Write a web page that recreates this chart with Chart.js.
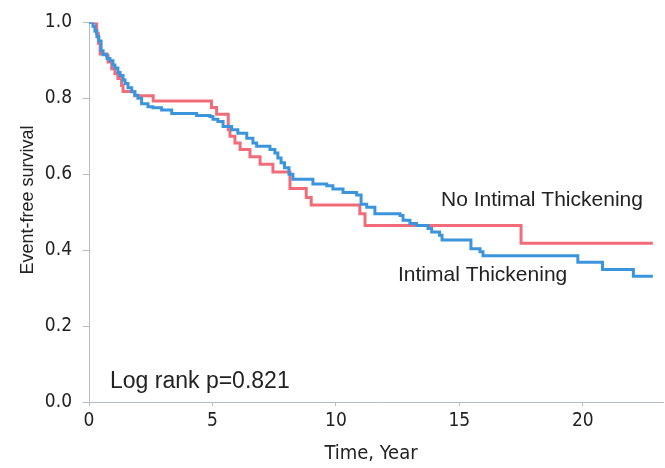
<!DOCTYPE html>
<html>
<head>
<meta charset="utf-8">
<script src="https://cdn.jsdelivr.net/npm/chart.js@4/dist/chart.umd.min.js"></script>
<style>
  html, body { margin: 0; padding: 0; background: #fff; }
  #wrap { width: 665px; height: 468px; }
</style>
</head>
<body>
<div id="wrap"><canvas id="kmChart" width="665" height="468"></canvas></div>
<script>
// Kaplan-Meier curves: event times (years) and survival after each event
const noThickTimes = [0, 0.31, 0.38, 0.45, 0.72, 0.77, 0.92, 1.05, 1.17, 1.32, 1.38, 1.85, 2.6, 4.96, 5.17, 5.64, 5.71, 5.91, 6.12, 6.52, 6.93, 7.45, 8.14, 8.8, 9.0, 10.97, 11.18, 17.5, 22.84];
const noThickSurv  = [1.0, 0.97, 0.945, 0.917, 0.912, 0.896, 0.878, 0.865, 0.852, 0.834, 0.818, 0.807, 0.793, 0.776, 0.758, 0.717, 0.70, 0.682, 0.665, 0.646, 0.626, 0.606, 0.5625, 0.539, 0.519, 0.496, 0.465, 0.418, 0.418];

const thickTimes = [0, 0.16, 0.24, 0.32, 0.4, 0.49, 0.57, 0.73, 0.85, 0.97, 1.05, 1.17, 1.26, 1.38, 1.46, 1.58, 1.73, 1.86, 1.98, 2.13, 2.39, 2.59, 2.94, 3.35, 4.36, 4.9, 5.02, 5.22, 5.43, 5.78, 6.03, 6.39, 6.64, 6.79, 7.33, 7.53, 7.65, 7.78, 7.92, 8.1, 8.26, 9.07, 9.63, 9.88, 10.29, 10.84, 11.02, 11.25, 11.58, 12.6, 12.72, 13.0, 13.27, 13.73, 13.88, 14.2, 14.3, 15.47, 15.84, 15.96, 19.8, 20.8, 22.05, 22.84];
const thickSurv  = [1.0, 0.99, 0.977, 0.962, 0.951, 0.925, 0.915, 0.905, 0.899, 0.888, 0.88, 0.868, 0.86, 0.848, 0.839, 0.828, 0.817, 0.808, 0.80, 0.786, 0.778, 0.775, 0.769, 0.760, 0.755, 0.752, 0.745, 0.739, 0.726, 0.717, 0.708, 0.695, 0.682, 0.674, 0.665, 0.656, 0.643, 0.63, 0.617, 0.60, 0.587, 0.574, 0.57, 0.561, 0.552, 0.545, 0.521, 0.513, 0.496, 0.491, 0.479, 0.47, 0.465, 0.457, 0.448, 0.439, 0.427, 0.404, 0.396, 0.385, 0.368, 0.349, 0.331, 0.331];

const xTicks = [0, 5, 10, 15, 20];
const yTicks = [0, 0.2, 0.4, 0.6, 0.8, 1.0];

function toPoints(times, surv) {
  return times.map((t, i) => ({ x: t, y: surv[i] }));
}

const textColor = "#222";
const axisColor = "#b4bcc8";

// axis titles and in-plot labels
const labelsPlugin = {
  id: "kmLabels",
  afterDraw(chart) {
    const ctx = chart.ctx;
    ctx.save();
    ctx.fillStyle = textColor;
    ctx.textBaseline = "alphabetic";
    ctx.textAlign = "left";
    ctx.font = "21px 'Liberation Sans', Arial, sans-serif";
    ctx.fillText("No Intimal Thickening", 441, 206);
    ctx.fillText("Intimal Thickening", 398, 281);
    ctx.font = "23px 'Liberation Sans', Arial, sans-serif";
    ctx.fillText("Log rank p=0.821", 110, 388);

    ctx.textAlign = "center";
    ctx.font = "20px 'DejaVu Sans Condensed', 'DejaVu Sans', sans-serif";
    ctx.fillText("Time, Year", 371, 459);

    ctx.translate(33, 200);
    ctx.rotate(-Math.PI / 2);
    ctx.font = "18px 'Liberation Sans', Arial, sans-serif";
    ctx.fillText("Event-free survival", 0, 0);
    ctx.restore();
  },
};

new Chart(document.getElementById("kmChart"), {
  type: "line",
  data: {
    datasets: [
      {
        label: "Intimal Thickening",
        data: toPoints(thickTimes, thickSurv),
        borderColor: "#3b95dc",
        borderWidth: 3,
        stepped: true,
        pointRadius: 0,
        fill: false,
      },
      {
        label: "No Intimal Thickening",
        data: toPoints(noThickTimes, noThickSurv),
        borderColor: "#f06c78",
        borderWidth: 3,
        stepped: true,
        pointRadius: 0,
        fill: false,
      },
    ],
  },
  options: {
    responsive: false,
    animation: false,
    layout: { padding: { top: 18, right: 2, left: 0, bottom: 0 } },
    plugins: { legend: { display: false }, tooltip: { enabled: false } },
    scales: {
      x: {
        type: "linear",
        min: 0,
        max: 23.25,
        afterBuildTicks: (scale) => { scale.ticks = xTicks.map((v) => ({ value: v })); },
        afterFit: (scale) => { scale.height = 66; },
        ticks: {
          color: textColor,
          padding: 4,
          maxRotation: 0,
          font: { family: "'DejaVu Sans Condensed', 'DejaVu Sans', sans-serif", size: 19 },
        },
        grid: { drawOnChartArea: false, tickLength: 4, color: axisColor },
        border: { color: axisColor, dash: [2, 2], width: 1 },
      },
      y: {
        min: 0,
        max: 1,
        afterBuildTicks: (scale) => { scale.ticks = yTicks.map((v) => ({ value: v })); },
        afterFit: (scale) => { scale.width = 89; },
        ticks: {
          color: textColor,
          padding: 11,
          callback: (v) => v.toFixed(1),
          font: { family: "'DejaVu Sans Condensed', 'DejaVu Sans', sans-serif", size: 19 },
        },
        grid: { drawOnChartArea: false, tickLength: 6, color: axisColor },
        border: { color: axisColor, dash: [2, 2], width: 1 },
      },
    },
  },
  plugins: [labelsPlugin],
});
</script>
</body>
</html>
